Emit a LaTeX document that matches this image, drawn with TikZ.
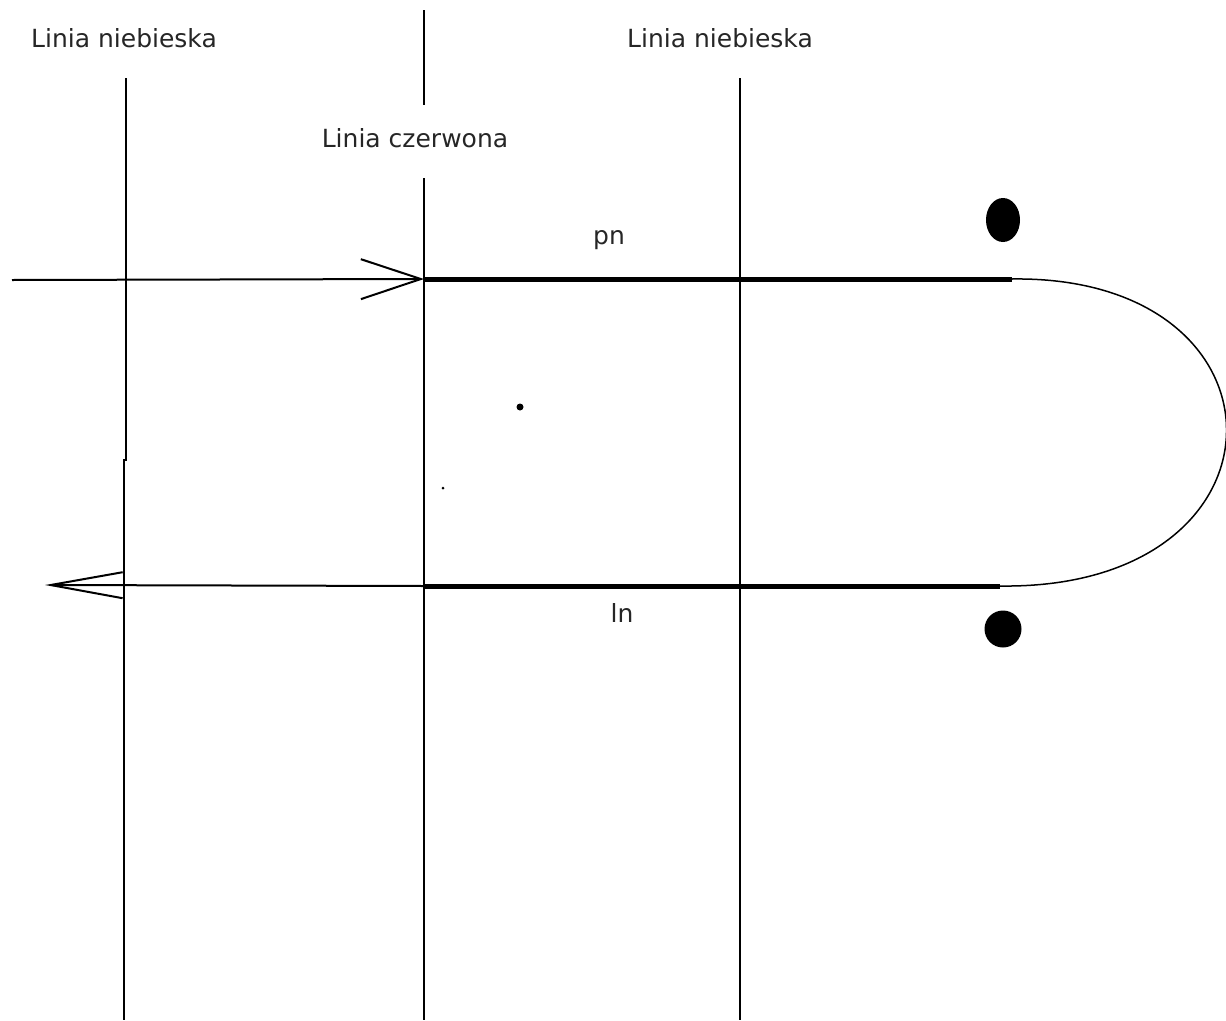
\documentclass[tikz,border=0pt]{standalone}
\usepackage{fontspec}
\setmainfont{DejaVu Sans}
\usetikzlibrary{arrows.meta,shapes.geometric}
\begin{document}
\begin{tikzpicture}[x=1pt,y=-1pt,
  thinln/.style={line width=2pt,black},
  thickln/.style={line width=5pt,black},
  lbl/.style={font=\fontsize{25}{29}\selectfont,inner sep=0pt,text=black!85},
  blob/.style={fill=black,draw=none}]
\useasboundingbox[fill=white] (0,0) rectangle (1226,1020);
% labels
\node[lbl] (lblL) at (124,38) {Linia niebieska};
\node[lbl] (lblR) at (720,38) {Linia niebieska};
\node[lbl] (lblC) at (415,138) {Linia czerwona};
\node[lbl] (pn) at (609,240) {pn};
\node[lbl] (ln) at (622,613) {ln};
% vertical lines
\coordinate (bl1) at (126,78);  \coordinate (bl2) at (126,461);
\coordinate (bl3) at (124,459); \coordinate (bl4) at (124,1020);
\coordinate (rc1) at (424,10);  \coordinate (rc2) at (424,105);
\coordinate (rc3) at (424,178); \coordinate (rc4) at (424,1020);
\coordinate (br1) at (740,78);  \coordinate (br2) at (740,1020);
\draw[thinln] (bl1) -- (bl2);
\draw[thinln] (bl3) -- (bl4);
\draw[thinln] (rc1) -- (rc2);
\draw[thinln] (rc3) -- (rc4);
\draw[thinln] (br1) -- (br2);
% top path
\coordinate (tin) at (12,280);
\coordinate (ttip) at (424,279);
\coordinate (tend) at (1012,279);
\draw[thinln,-{Straight Barb[length=60pt,width=40pt,line width=2pt]}] (tin) -- (ttip);
\draw[thickln] (ttip) -- (tend);
% bottom path
\coordinate (bstart) at (424,586);
\coordinate (btip) at (45,585);
\coordinate (bend) at (1000,586);
\draw[thickln] (bstart) -- (bend);
\draw[thinln,-{Straight Barb[length=72pt,width=26pt,line width=2pt]}] (bstart) -- (btip);
% return curve
\draw[line width=1.5pt] (tend) .. controls (1300,275) and (1300,590) .. (bend);
% dots
\node[blob,ellipse,minimum width=34pt,minimum height=44pt,inner sep=0pt] (dotT) at (1003,220) {};
\node[blob,circle,minimum size=37pt,inner sep=0pt] (dotB) at (1003,629) {};
\node[blob,circle,minimum size=7pt,inner sep=0pt] (spk1) at (520,407) {};
\node[blob,circle,minimum size=3pt,inner sep=0pt] (spk2) at (443,488) {};
\end{tikzpicture}
\end{document}
